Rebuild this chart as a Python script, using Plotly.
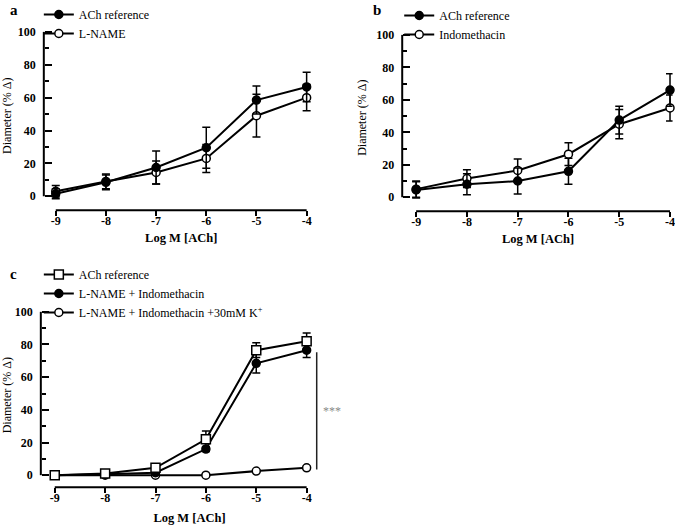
import plotly.graph_objects as go

# ---------------- data ----------------
log_ach = [-9, -8, -7, -6, -5, -4]
x_tick_labels = ["-9", "-8", "-7", "-6", "-5", "-4"]
y_tick_vals = [0, 20, 40, 60, 80, 100]
y_minor_vals = [10, 30, 50, 70, 90]

a_ach_ref = [1.5, 8.5, 17.5, 29.5, 58.5, 66.5]
a_ach_ref_err = [3, 4.5, 10, 12.5, 8.5, 9]
a_lname = [3, 9, 14.5, 23, 49, 60]
a_lname_err = [3.5, 4.5, 7, 8.5, 13, 8]

b_ach_ref = [4.5, 8, 10, 16, 47.5, 66]
b_ach_ref_err = [5, 6.5, 8, 8, 8.5, 10]
b_indo = [5, 11.5, 16.5, 26.5, 45, 55]
b_indo_err = [5, 5.5, 7, 7, 9, 8]

c_ach_ref = [0, 1, 4.5, 22, 76.5, 82]
c_ach_ref_err = [0.5, 1, 1.5, 5, 4.5, 5]
c_lname_indo = [0, 0.5, 1.5, 16, 68.5, 76.5]
c_lname_indo_err = [0.5, 0.5, 1, 1.5, 6, 4.5]
c_lname_indo_k = [0, 0, 0, 0, 2.5, 4.5]
c_lname_indo_k_err = [0.3, 0.3, 0.3, 0.3, 0.8, 1]

sig_range = [3.5, 75.2]
sig_x = -3.8
sig_label = "***"

# ---------------- layout geometry (pixels) ----------------
W, H = 675, 525
FONT = "'Liberation Serif', 'Times New Roman', Times, serif"


def fx(px):
    return px / W


def fy(py):
    return 1 - py / H


# x(-9), x(-4), y(0), y(100), y-axis line x, x-axis line y, x-ext left/right, title standoff
panels = {
    "a": dict(x9=55, x4=307, y0=195, y100=30, ylx=43, xly=209, xl=0.25, xr=0.25, st=6),
    "b": dict(x9=417, x4=672, y0=196, y100=33, ylx=403, xly=210, xl=0.25, xr=0.05, st=6),
    "c": dict(x9=54, x4=307, y0=475, y100=311, ylx=40, xly=487, xl=0.25, xr=0.6, st=9),
}
Y_LO, Y_HI = -8, 106

fig = go.Figure()
shapes = []
annotations = []

for i, (key, p) in enumerate(panels.items(), start=1):
    sfx = "" if i == 1 else str(i)
    xppu = (p["x4"] - p["x9"]) / 5.0
    yppu = (p["y0"] - p["y100"]) / 100.0
    xd0 = p["x9"] - p["xl"] * xppu
    xd1 = p["x4"] + p["xr"] * xppu
    yd0 = p["y0"] + (0 - Y_LO) * yppu
    yd1 = p["y100"] - (Y_HI - 100) * yppu
    fig.update_layout(**{
        "xaxis" + sfx: dict(
            domain=[fx(xd0), min(fx(xd1), 1.0)],
            range=[-9 - p["xl"], -4 + p["xr"]],
            anchor="free", position=fy(p["xly"]),
            showline=False, showgrid=False, zeroline=False,
            ticks="", tickvals=log_ach, ticktext=x_tick_labels,
            ticklabelstandoff=2,
            minor=dict(tickvals=log_ach, ticks="outside", ticklen=5,
                       tickwidth=2, tickcolor="black"),
            ticklabeloverflow="allow",
            tickfont=dict(family=FONT, size=12, color="black", weight="bold"),
            title=dict(text="Log M [ACh]", standoff=p["st"],
                       font=dict(family=FONT, size=12.5, color="black", weight="bold")),
        ),
        "yaxis" + sfx: dict(
            domain=[fy(yd0), fy(yd1)],
            range=[Y_LO, Y_HI],
            anchor="free", position=fx(p["ylx"]),
            showline=False, showgrid=False, zeroline=False,
            ticks="inside", ticklen=7, tickwidth=2, tickcolor="black",
            tickvals=y_tick_vals, ticklabelstandoff=8,
            minor=dict(tickvals=y_minor_vals, ticks="inside", ticklen=4,
                       tickwidth=2, tickcolor="black"),
            tickfont=dict(family=FONT, size=12, color="black", weight="bold"),
            title=dict(text="Diameter (% Δ)", standoff=6,
                       font=dict(family=FONT, size=12, color="black")),
        ),
    })
    # axis lines (detached GraphPad style)
    shapes.append(dict(type="line", xref="paper", yref="paper",
                       x0=fx(p["ylx"]), x1=fx(p["ylx"]),
                       y0=fy(p["y0"]), y1=fy(p["y100"]),
                       line=dict(color="black", width=2)))
    shapes.append(dict(type="line", xref="paper", yref="paper",
                       x0=fx(p["x9"]), x1=fx(p["x4"]),
                       y0=fy(p["xly"]), y1=fy(p["xly"]),
                       line=dict(color="black", width=2)))


def add_series(y, err, name, axis_n, legend, filled, symbol="circle", rank=1):
    sfx = "" if axis_n == 1 else str(axis_n)
    fig.add_trace(go.Scatter(
        x=log_ach, y=y, name=name, mode="lines+markers",
        xaxis="x" + sfx, yaxis="y" + sfx, legend=legend, legendrank=rank,
        line=dict(color="black", width=2),
        marker=dict(symbol=symbol, size=8 if symbol == "circle" else 9,
                    color="black" if filled else "white",
                    line=dict(color="black", width=1.5)),
        error_y=dict(type="data", array=err, visible=True,
                     color="black", thickness=1.5, width=4),
        cliponaxis=False,
    ))


add_series(a_lname, a_lname_err, "L-NAME", 1, "legend", False, rank=2)
add_series(a_ach_ref, a_ach_ref_err, "ACh reference", 1, "legend", True, rank=1)

add_series(b_indo, b_indo_err, "Indomethacin", 2, "legend2", False, rank=2)
add_series(b_ach_ref, b_ach_ref_err, "ACh reference", 2, "legend2", True, rank=1)

add_series(c_lname_indo_k, c_lname_indo_k_err,
           "L-NAME + Indomethacin +30mM K<sup>+</sup>", 3, "legend3", False, rank=3)
add_series(c_lname_indo, c_lname_indo_err, "L-NAME + Indomethacin", 3, "legend3", True, rank=2)
add_series(c_ach_ref, c_ach_ref_err, "ACh reference", 3, "legend3", False, symbol="square", rank=1)

# significance bar for panel c
shapes.append(dict(type="line", xref="x3", yref="y3",
                   x0=sig_x, x1=sig_x, y0=sig_range[0], y1=sig_range[1],
                   line=dict(color="#222222", width=1.5)))
annotations.append(dict(xref="x3", yref="y3", x=sig_x, y=sum(sig_range) / 2,
                        xanchor="left", xshift=4, text=sig_label, showarrow=False,
                        font=dict(family=FONT, size=12, color="#888888")))

# panel letters
for letter, (px, py) in {"a": (13, 8), "b": (378, 8), "c": (13, 273)}.items():
    annotations.append(dict(xref="paper", yref="paper", x=fx(px), y=fy(py),
                            text=letter, showarrow=False, xanchor="center", yanchor="middle",
                            font=dict(family=FONT, size=15, color="black", weight="bold")))

legend_style = dict(font=dict(family=FONT, size=12, color="black"),
                    bgcolor="rgba(0,0,0,0)", xanchor="left", yanchor="top",
                    tracegroupgap=0, itemwidth=30)

fig.update_layout(
    width=W, height=H,
    margin=dict(l=0, r=0, t=0, b=0),
    paper_bgcolor="white", plot_bgcolor="rgba(0,0,0,0)",
    font=dict(family=FONT, color="black"),
    showlegend=True,
    legend=dict(x=fx(38), y=fy(-2), **legend_style),
    legend2=dict(x=fx(400), y=fy(-1), **legend_style),
    legend3=dict(x=fx(38), y=fy(259), **legend_style),
    shapes=shapes,
    annotations=annotations,
)

fig.write_html("out.html", config={"displayModeBar": False},
               post_script="document.body.style.margin='0';")
